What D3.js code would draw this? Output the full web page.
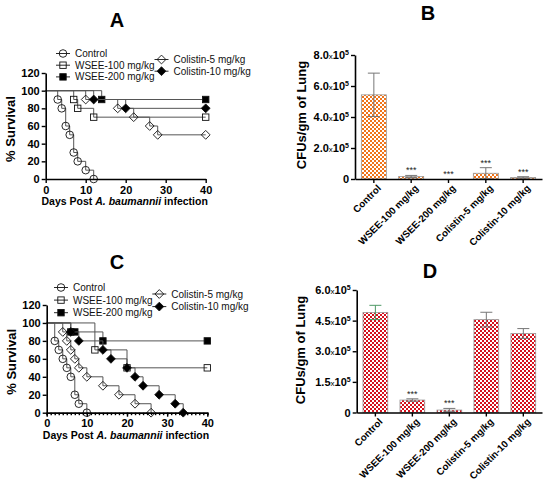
<!DOCTYPE html>
<html>
<head>
<meta charset="utf-8">
<script src="https://cdn.jsdelivr.net/npm/d3@7"></script>
<style>
  body { margin: 0; background: #fff; }
  svg { font-family: Arial, "Liberation Sans", sans-serif; }
</style>
</head>
<body>
<svg id="chart" width="550" height="480"></svg>
<script>
// groups used in every panel
const groups = ["Control", "WSEE-100 mg/kg", "WSEE-200 mg/kg", "Colistin-5 mg/kg", "Colistin-10 mg/kg"];
const survivalTicks = [0, 20, 40, 60, 80, 100, 120];
const dayTicks = [0, 10, 20, 30, 40];

// panel A : survival (days of death, % survival after that day)
const aControlDays = [3, 4, 5, 6, 7, 8, 10, 12];
const aControlSurv = [90, 80, 60, 50, 30, 20, 10, 0];
const aWsee100Days = [7, 8, 12, 40];
const aWsee100Surv = [90, 80, 70, 70];
const aWsee200Days = [14, 40];
const aWsee200Surv = [90, 90];
const aCol5Days = [10, 18, 22, 26, 28, 40];
const aCol5Surv = [90, 80, 70, 60, 50, 50];
const aCol10Days = [12, 20, 40];
const aCol10Surv = [90, 80, 80];

// panel C : survival
const cControlDays = [2, 3, 4, 5, 6, 7, 8, 10];
const cControlSurv = [80, 70, 60, 50, 40, 20, 10, 0];
const cWsee100Days = [12, 20, 40];
const cWsee100Surv = [70, 50, 50];
const cWsee200Days = [6, 7, 14, 40];
const cWsee200Surv = [90, 90, 80, 80];
const cCol5Days = [4, 5, 6, 7, 8, 10, 14, 18, 22, 26];
const cCol5Surv = [90, 80, 70, 60, 50, 40, 30, 20, 10, 0];
const cCol10Days = [6, 8, 14, 16, 20, 22, 24, 28, 32, 34];
const cCol10Surv = [90, 80, 70, 60, 50, 40, 30, 20, 10, 0];

// panel B : CFU per gm of lung (x10^5)
const bMeans = [5.43, 0.16, 0, 0.37, 0.10];
const bErrors = [1.40, 0.07, 0, 0.36, 0.05];
const bStars = ["", "***", "***", "***", "***"];
const bTicks = [0, 2, 4, 6, 8];

// panel D : CFU per gm of lung (x10^5)
const dMeans = [4.90, 0.61, 0.12, 4.55, 3.87];
const dErrors = [0.35, 0.06, 0.08, 0.36, 0.24];
const dStars = ["", "***", "***", "", ""];
const dTicks = [0, 1.5, 3.0, 4.5, 6.0];

const svg = d3.select("#chart");
const shapes = ["circle", "square", "square", "diamond", "diamond"];
const filled = [false, false, true, false, true];

// checkered fill for the bars
const defs = svg.append("defs");
function checker(id, color) {
  const p = defs.append("pattern").attr("id", id)
    .attr("width", 4).attr("height", 4).attr("patternUnits", "userSpaceOnUse");
  p.append("rect").attr("width", 4).attr("height", 4).attr("fill", color);
  p.append("rect").attr("width", 2).attr("height", 2).attr("fill", "#fff");
  p.append("rect").attr("x", 2).attr("y", 2).attr("width", 2).attr("height", 2).attr("fill", "#fff");
}
checker("orange", "#f0741a");
checker("red", "#d5101c");

function marker(sel, shape, fill) {
  if (shape === "circle") {
    sel.append("circle").attr("r", 3.8);
  } else if (shape === "square") {
    sel.append("rect").attr("x", -3.2).attr("y", -3.2).attr("width", 6.4).attr("height", 6.4);
  } else {
    sel.append("path").attr("d", "M0,-4.4L4.4,0L0,4.4L-4.4,0Z");
  }
  sel.selectAll("*")
    .attr("fill", fill ? "#000" : "none")
    .attr("stroke", "#111")
    .attr("stroke-width", 0.9);
}

function styleAxis(g) {
  g.select(".domain").attr("stroke", "#000").attr("stroke-width", 1.6);
  g.selectAll(".tick line").attr("stroke", "#000").attr("stroke-width", 1.4);
  g.selectAll(".tick text").attr("font-weight", "bold").attr("font-size", 11).attr("fill", "#000");
}

function survival(o) {
  const x = d3.scaleLinear().domain([0, 40]).range([o.left, o.right]);
  const y = d3.scaleLinear().domain([0, 120]).range([o.bottom, o.top]);
  const g = svg.append("g");

  g.append("text").attr("x", o.titleX).attr("y", o.titleY)
    .attr("text-anchor", "middle").attr("font-weight", "bold").attr("font-size", 20)
    .text(o.title);

  const line = d3.line().x(d => x(d[0])).y(d => y(d[1])).curve(d3.curveStepAfter);

  o.series.forEach((s, i) => {
    const pts = [[0, 100]].concat(s.days.map((d, j) => [d, s.surv[j]]));
    g.append("path").attr("d", line(pts))
      .attr("fill", "none").attr("stroke", "#555").attr("stroke-width", 1);
    s.days.forEach((d, j) => {
      const m = g.append("g").attr("transform", `translate(${x(d)},${y(s.surv[j])})`);
      marker(m, shapes[i], filled[i]);
    });
  });

  if (o.minor) {
    g.append("g").attr("transform", `translate(0,${o.bottom})`)
      .call(d3.axisBottom(x).ticks(40).tickSize(2.5).tickFormat(""))
      .call(styleAxis);
  }
  g.append("g").attr("transform", `translate(0,${o.bottom})`)
    .call(d3.axisBottom(x).tickValues(dayTicks).tickSize(4).tickSizeOuter(0))
    .call(styleAxis);
  g.append("g").attr("transform", `translate(${o.left},0)`)
    .call(d3.axisLeft(y).tickValues(survivalTicks).tickSize(4).tickSizeOuter(0).tickPadding(2))
    .call(styleAxis);

  g.append("text")
    .attr("transform", `translate(${o.left - 31},${(o.top + o.bottom) / 2 + 3}) rotate(-90)`)
    .attr("text-anchor", "middle").attr("font-weight", "bold").attr("font-size", 13)
    .text("% Survival");

  const xl = g.append("text").attr("x", (o.left + o.right) / 2 - 1).attr("y", o.bottom + 26)
    .attr("text-anchor", "middle").attr("font-weight", "bold").attr("font-size", 10.5);
  xl.append("tspan").text("Days Post ");
  xl.append("tspan").attr("font-style", "italic").text("A. baumannii");
  xl.append("tspan").text(" infection");

  // legend
  groups.forEach((name, i) => {
    const col = i < 3 ? 0 : 1;
    const row = i < 3 ? i : i - 3;
    const lx = o.legX[col], ly = o.legY[col] + row * o.legStep;
    const lg = g.append("g").attr("transform", `translate(${lx},${ly})`);
    lg.append("line").attr("x1", -7).attr("x2", 7).attr("stroke", "#555").attr("stroke-width", 1);
    marker(lg, shapes[i], filled[i]);
    g.append("text").attr("x", lx + 12).attr("y", ly + 3.5)
      .attr("font-size", 10).attr("fill", "#111").text(name);
  });
}

function sciLabel(sel, v) {
  sel.text(null);
  if (v === 0) { sel.append("tspan").text("0"); return; }
  sel.append("tspan").text(v.toFixed(1));
  sel.append("tspan").attr("font-weight", "normal").attr("font-size", 8).text("x");
  sel.append("tspan").text("10");
  sel.append("tspan").attr("font-size", 7).attr("dy", -4).text("5");
}

function bars(o) {
  const x = d3.scaleBand().domain(groups).range([o.left, o.right])
    .paddingInner(0.33).paddingOuter(0.17);
  const y = d3.scaleLinear().domain([0, o.max]).range([o.bottom, o.top]);
  const g = svg.append("g");

  g.append("text").attr("x", o.titleX).attr("y", o.titleY)
    .attr("text-anchor", "middle").attr("font-weight", "bold").attr("font-size", 20)
    .text(o.title);

  g.selectAll("rect.bar").data(groups).join("rect")
    .attr("class", "bar")
    .attr("x", d => x(d)).attr("width", x.bandwidth())
    .attr("y", (d, i) => y(o.means[i]))
    .attr("height", (d, i) => o.bottom - y(o.means[i]))
    .attr("fill", `url(#${o.pattern})`)
    .attr("stroke", "#999").attr("stroke-width", 0.8);

  groups.forEach((d, i) => {
    const cx = x(d) + x.bandwidth() / 2;
    const hi = y(o.means[i] + o.errors[i]);
    const lo = y(Math.max(0, o.means[i] - o.errors[i]));
    const col = o.errColor(i);
    if (o.errors[i] > 0) {
      g.append("line").attr("x1", cx).attr("x2", cx).attr("y1", hi).attr("y2", lo)
        .attr("stroke", col).attr("stroke-width", 1);
      [hi, lo].forEach(v => g.append("line").attr("x1", cx - 6).attr("x2", cx + 6)
        .attr("y1", v).attr("y2", v).attr("stroke", col).attr("stroke-width", 1));
    }
    if (o.stars[i]) {
      g.append("text").attr("x", cx).attr("y", Math.min(hi, y(o.means[i])) - 2)
        .attr("text-anchor", "middle").attr("font-size", 9).attr("fill", "#222")
        .text(o.stars[i]);
    }
  });

  const ax = g.append("g").attr("transform", `translate(0,${o.bottom})`)
    .call(d3.axisBottom(x).tickSize(4).tickSizeOuter(0))
    .call(styleAxis);
  ax.selectAll(".tick text")
    .attr("x", 0).attr("y", 0)
    .attr("text-anchor", "end").attr("font-size", 9.8)
    .attr("transform", "translate(4,6) rotate(-45)")
    .attr("dy", "0.55em");

  g.append("g").attr("transform", `translate(${o.left},0)`)
    .call(d3.axisLeft(y).tickValues(o.ticks).tickSize(4).tickSizeOuter(0).tickPadding(2))
    .call(styleAxis)
    .selectAll(".tick text").each(function (v) { sciLabel(d3.select(this), v); });

  g.append("text")
    .attr("transform", `translate(${o.labelX},${o.labelY}) rotate(-90)`)
    .attr("text-anchor", "middle").attr("font-weight", "bold").attr("font-size", 13)
    .text("CFUs/gm of Lung");
}

survival({
  title: "A", titleX: 117, titleY: 27,
  left: 45.7, right: 205.7, bottom: 179, top: 73,
  minor: false,
  legX: [63, 161.5], legY: [53.5, 59.5], legStep: 11.7,
  series: [
    { days: aControlDays, surv: aControlSurv },
    { days: aWsee100Days, surv: aWsee100Surv },
    { days: aWsee200Days, surv: aWsee200Surv },
    { days: aCol5Days, surv: aCol5Surv },
    { days: aCol10Days, surv: aCol10Surv }
  ]
});

survival({
  title: "C", titleX: 117, titleY: 269,
  left: 46.7, right: 207.3, bottom: 412.7, top: 305,
  minor: true,
  legX: [61, 159.3], legY: [287.5, 294], legStep: 12.6,
  series: [
    { days: cControlDays, surv: cControlSurv },
    { days: cWsee100Days, surv: cWsee100Surv },
    { days: cWsee200Days, surv: cWsee200Surv },
    { days: cCol5Days, surv: cCol5Surv },
    { days: cCol10Days, surv: cCol10Surv }
  ]
});

bars({
  title: "B", titleX: 428, titleY: 20,
  left: 355, right: 542, bottom: 179, top: 55, max: 8,
  means: bMeans, errors: bErrors, stars: bStars, ticks: bTicks,
  pattern: "orange", errColor: () => "#777",
  labelX: 306, labelY: 115
});

bars({
  title: "D", titleX: 430, titleY: 278,
  left: 356.7, right: 542, bottom: 412.5, top: 290, max: 6,
  means: dMeans, errors: dErrors, stars: dStars, ticks: dTicks,
  pattern: "red", errColor: i => i === 0 ? "#4f9a66" : "#777",
  labelX: 305, labelY: 350
});
</script>
</body>
</html>
